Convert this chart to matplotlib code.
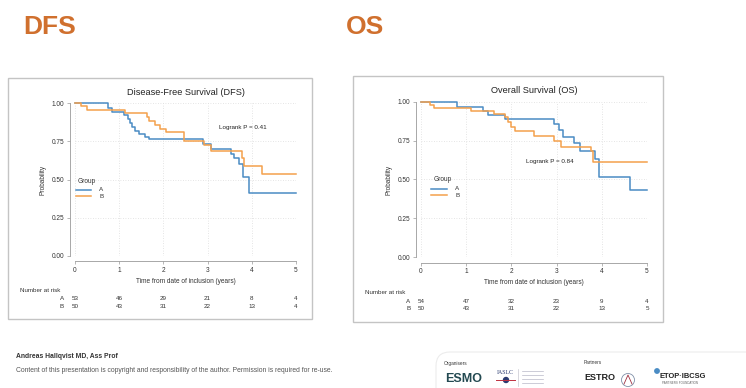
import numpy as np
import matplotlib
matplotlib.use('Agg')
import matplotlib.pyplot as plt
from matplotlib.patches import Rectangle, FancyBboxPatch, Circle

plt.rcParams['font.family'] = ['Liberation Sans', 'DejaVu Sans']

# Kaplan-Meier step data (time in years, survival after each drop)
dfs_a_t = [0, 0.74, 0.84, 1.10, 1.20, 1.25, 1.30, 1.36, 1.45, 1.58, 1.68, 2.90, 3.07, 3.53, 3.60, 3.72, 3.79, 3.93, 5.0]
dfs_a_s = [1.0, 0.97, 0.945, 0.92, 0.895, 0.87, 0.845, 0.82, 0.80, 0.78, 0.764, 0.733, 0.698, 0.667, 0.64, 0.60, 0.515, 0.41, 0.41]
dfs_b_t = [0, 0.14, 0.27, 1.12, 1.62, 1.67, 1.80, 1.92, 2.07, 2.47, 2.92, 3.08, 3.78, 3.82, 4.22, 5.0]
dfs_b_s = [1.0, 0.98, 0.957, 0.937, 0.91, 0.885, 0.86, 0.83, 0.81, 0.755, 0.725, 0.685, 0.64, 0.59, 0.535, 0.535]

os_a_t = [0, 0.80, 1.38, 1.48, 1.86, 2.95, 3.06, 3.15, 3.38, 3.52, 3.85, 3.93, 4.62, 5.0]
os_a_s = [1.0, 0.963, 0.94, 0.915, 0.89, 0.855, 0.82, 0.775, 0.732, 0.685, 0.63, 0.518, 0.433, 0.433]
os_b_t = [0, 0.20, 0.28, 1.10, 1.62, 1.85, 1.93, 2.00, 2.08, 2.50, 2.95, 3.10, 3.76, 3.81, 5.0]
os_b_s = [1.0, 0.98, 0.96, 0.94, 0.92, 0.90, 0.87, 0.84, 0.81, 0.778, 0.745, 0.71, 0.68, 0.615, 0.615]

risk_times = [0, 1, 2, 3, 4, 5]
dfs_risk_a = [53, 46, 29, 21, 8, 4]
dfs_risk_b = [50, 43, 31, 22, 13, 4]
os_risk_a = [54, 47, 32, 23, 9, 4]
os_risk_b = [50, 43, 31, 22, 13, 5]

yticks = [0.0, 0.25, 0.5, 0.75, 1.0]
ytick_labels = ['0.00', '0.25', '0.50', '0.75', '1.00']

blue = '#4a8cc4'
orange = '#f4a04c'
accent = '#d0702e'
W, H = 746, 388

fig = plt.figure(figsize=(W/100, H/100), dpi=100)
fig.patch.set_facecolor('white')

# overlay in pixel coords for slide decorations
ov = fig.add_axes([0, 0, 1, 1], zorder=0)
ov.set_xlim(0, W)
ov.set_ylim(H, 0)
ov.axis('off')
ov.patch.set_alpha(0)


def km_panel(box, ax_px, title, logrank, logrank_xy, legend_xy, ta, sa, tb, sb, ra, rb, nar_xy, grp_x):
    # box: (x0, y0, x1, y1) pixels; ax_px: (x_left, x_right, y_top, y_bottom) of data range 0..5 / 1..0
    bx0, by0, bx1, by1 = box
    ov.add_patch(Rectangle((bx0, by0), bx1 - bx0, by1 - by0, fill=False, ec='#c4c4c4', lw=1.0))
    xl, xr, yt, yb = ax_px
    ax = fig.add_axes([xl / W, 1 - yb / H, (xr - xl) / W, (yb - yt) / H], zorder=2)
    ax.patch.set_alpha(0)
    ax.set_xlim(0, 5)
    ax.set_ylim(0, 1)
    ax.step(ta, sa, where='post', color=blue, lw=1.1, clip_on=False, zorder=3)
    ax.step(tb, sb, where='post', color=orange, lw=1.1, clip_on=False, zorder=3)
    for s in ['top', 'right']:
        ax.spines[s].set_visible(False)
    ax.spines['left'].set_position(('outward', 3.6))
    ax.spines['bottom'].set_position(('outward', 3.8))
    ax.spines['left'].set_bounds(0, 1)
    ax.spines['bottom'].set_bounds(0, 5)
    for s in ['left', 'bottom']:
        ax.spines[s].set_color('#9a9a9a')
        ax.spines[s].set_linewidth(0.6)
    ax.set_yticks(yticks)
    ax.set_yticklabels(ytick_labels)
    ax.set_xticks(risk_times)
    ax.tick_params(labelsize=4.7, colors='#9a9a9a', labelcolor='#333333', length=2, width=0.5, pad=2)
    ax.grid(True, ls=(0, (1, 2)), color='#dcdcdc', lw=0.6)
    ax.set_xlabel('Time from date of inclusion (years)', fontsize=4.7, color='#333333', labelpad=3)
    ax.set_ylabel('Probability', fontsize=4.7, color='#333333', labelpad=4)
    ax.set_title(title, fontsize=6.6, color='#222222', pad=6)
    ax.text(logrank_xy[0], logrank_xy[1], logrank, fontsize=4.5, color='#222222', ha='center', va='center')
    # legend
    lx, ly = legend_xy
    ax.text(lx, ly, 'Group', fontsize=4.7, color='#333333', va='center', ha='left')
    ax.plot([lx - 0.05, lx + 0.3], [ly - 0.058, ly - 0.058], color=blue, lw=1.1)
    ax.plot([lx - 0.05, lx + 0.3], [ly - 0.1, ly - 0.1], color=orange, lw=1.1)
    ax.text(lx + 0.48, ly - 0.058, 'A', fontsize=4.5, color='#333333', va='center')
    ax.text(lx + 0.48, ly - 0.1, 'B', fontsize=4.5, color='#333333', va='center')
    # number at risk
    tr = ax.get_xaxis_transform()
    nx, ny = nar_xy
    ov.text(nx, ny, 'Number at risk', fontsize=4.5, color='#333333', va='center')
    for lab, counts, yy in (('A', ra, -0.284), ('B', rb, -0.332)):
        ax.text(grp_x, yy, lab, fontsize=4.5, color='#333333', ha='right', va='center', transform=tr)
        for t, c in zip(risk_times, counts):
            ax.text(t, yy, str(c), fontsize=4.5, color='#333333', ha='center', va='center', transform=tr)
    return ax


km_panel((8, 78, 312, 319), (75, 296, 103.3, 255.7), 'Disease-Free Survival (DFS)',
         'Logrank P = 0.41', (3.79, 0.84), (0.07, 0.49),
         dfs_a_t, dfs_a_s, dfs_b_t, dfs_b_s, dfs_risk_a, dfs_risk_b, (20, 291), -0.25)
km_panel((353, 76, 663, 322), (421, 647, 101.7, 257.3), 'Overall Survival (OS)',
         'Logrank P = 0.84', (2.85, 0.615), (0.28, 0.5),
         os_a_t, os_a_s, os_b_t, os_b_s, os_risk_a, os_risk_b, (365, 292), -0.24)

# slide headings
hfam = ['Liberation Sans Narrow', 'Liberation Sans']
ov.text(23, 27, 'DFS', fontsize=19, fontweight='bold', color=accent, va='center', ha='left', family=hfam)
ov.text(346, 27, 'OS', fontsize=19, fontweight='bold', color=accent, va='center', ha='left', family=hfam)

# footer
ov.text(16, 356, 'Andreas Hallqvist MD, Ass Prof', fontsize=4.9, fontweight='bold', color='#333333', va='center')
ov.text(16, 370, 'Content of this presentation is copyright and responsibility of the author. Permission is required for re-use.',
        fontsize=4.85, color='#555555', va='center')
ov.add_patch(FancyBboxPatch((436, 352), 330, 60, boxstyle='round,pad=0,rounding_size=14',
                            fc='white', ec='#ececec', lw=0.8))
ov.text(444, 363, 'Organisers', fontsize=3.4, color='#333333', va='center')
ov.text(584, 363, 'Partners', fontsize=3.4, color='#333333', va='center')
ov.text(445, 379, 'ESMO', fontsize=9, fontweight='bold', color='#244a52', va='center', family=hfam)
ov.text(497, 373, 'IASLC', fontsize=4.2, color='#2a3a70', va='center', family='Liberation Serif')
ov.plot([496, 515], [380, 380], color='#c03040', lw=0.7)
ov.add_patch(Circle((506, 380), 2.5, color='#2a3a70'))
for yy in [371, 375, 379, 383]:
    ov.plot([522, 543], [yy, yy], color='#b8b8c8', lw=0.5)
ov.plot([518, 518], [369, 386], color='#c8c8d0', lw=0.5)
ov.text(584, 378, 'ESTRO', fontsize=6.5, fontweight='bold', color='#222222', va='center', family=hfam)
ov.add_patch(Circle((628, 380), 6.5, fill=False, ec='#8090a8', lw=0.6))
ov.plot([624, 628, 632], [384, 375, 384], color='#a03040', lw=0.6)
ov.add_patch(Circle((657, 371), 2.2, color='#4a8cc4'))
ov.text(660, 376, 'ETOP·IBCSG', fontsize=5.4, fontweight='bold', color='#222222', va='center')
ov.text(662, 383, 'PARTNERS FOUNDATION', fontsize=2.2, color='#666666', va='center')

fig.savefig('out.png', dpi=100)
